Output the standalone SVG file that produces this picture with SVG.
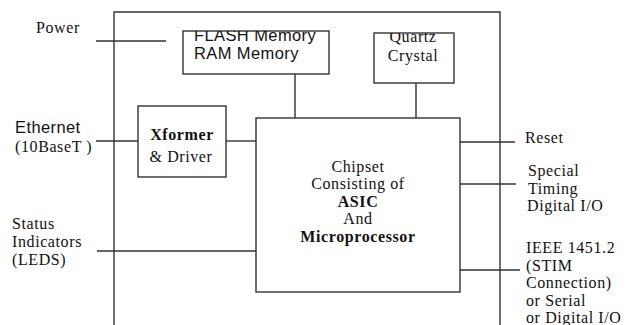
<svg xmlns="http://www.w3.org/2000/svg" width="634" height="325" viewBox="0 0 634 325">
<style>
.ln{stroke:#333;stroke-width:1.4;fill:none}
.bx{stroke:#333;stroke-width:1.4;fill:none}
.s{font-family:"Liberation Serif","Times New Roman",serif;font-size:16px;letter-spacing:0.6px;fill:#111}
.a{font-family:"Liberation Sans",Arial,sans-serif;font-size:16.5px;letter-spacing:0.4px;fill:#111}
.b{font-weight:bold}
.m{text-anchor:middle}
</style>
<defs>
<clipPath id="cf"><rect x="183" y="31" width="146" height="43"/></clipPath>
<clipPath id="cq"><rect x="374" y="33" width="80" height="50"/></clipPath>
</defs>
<rect width="634" height="325" fill="#fff"/>
<g id="enclosure"><path class="ln" d="M114,325 V12 H500 V325"/></g>
<g id="connectors">
<line class="ln" x1="96" y1="41" x2="166" y2="41"/>
<line class="ln" x1="295" y1="74" x2="295" y2="118"/>
<line class="ln" x1="416" y1="83" x2="416" y2="118"/>
<line class="ln" x1="96" y1="141" x2="138" y2="141"/>
<line class="ln" x1="226" y1="141" x2="256" y2="141"/>
<line class="ln" x1="97" y1="251" x2="256" y2="251"/>
<line class="ln" x1="460" y1="142" x2="515" y2="142"/>
<line class="ln" x1="460" y1="184" x2="516" y2="184"/>
<line class="ln" x1="460" y1="270" x2="520" y2="270"/>
</g>
<g id="memory">
<rect class="bx" x="183" y="31" width="146" height="43"/>
<g clip-path="url(#cf)">
<text class="a" x="194" y="41">FLASH Memory</text>
<text class="a" x="194" y="59">RAM Memory</text>
</g>
</g>
<g id="crystal">
<rect class="bx" x="374" y="33" width="80" height="50"/>
<g clip-path="url(#cq)">
<text class="s m" x="413" y="42">Quartz</text>
<text class="s m" x="413" y="61">Crystal</text>
</g>
</g>
<g id="xformer">
<rect class="bx" x="138" y="106" width="88" height="71"/>
<text class="s b m" x="182" y="140">Xformer</text>
<text class="s m" x="181" y="162">&amp; Driver</text>
</g>
<g id="chipset">
<rect class="bx" x="256" y="118" width="204" height="174"/>
<text class="s m" x="358" y="172">Chipset</text>
<text class="s m" x="358" y="189">Consisting of</text>
<text class="s b m" x="358" y="207">ASIC</text>
<text class="s m" x="358" y="224">And</text>
<text class="s b m" x="358" y="242">Microprocessor</text>
</g>
<g id="power"><text class="s" x="36" y="33">Power</text></g>
<g id="ethernet">
<text class="a" x="15" y="133">Ethernet</text>
<text class="s" x="15" y="152">(10BaseT )</text>
</g>
<g id="status">
<text class="s" x="12" y="229">Status</text>
<text class="s" x="12" y="247">Indicators</text>
<text class="s" x="12" y="265">(LEDS)</text>
</g>
<g id="reset"><text class="s" x="525" y="143">Reset</text></g>
<g id="timing">
<text class="s" x="528" y="176">Special</text>
<text class="s" x="528" y="194">Timing</text>
<text class="s" x="527" y="211">Digital I/O</text>
</g>
<g id="ieee">
<text class="s" x="526" y="253">IEEE 1451.2</text>
<text class="s" x="526" y="271">(STIM</text>
<text class="s" x="526" y="288">Connection)</text>
<text class="s" x="526" y="306">or Serial</text>
<text class="s" x="526" y="323">or Digital I/O</text>
</g>
</svg>
